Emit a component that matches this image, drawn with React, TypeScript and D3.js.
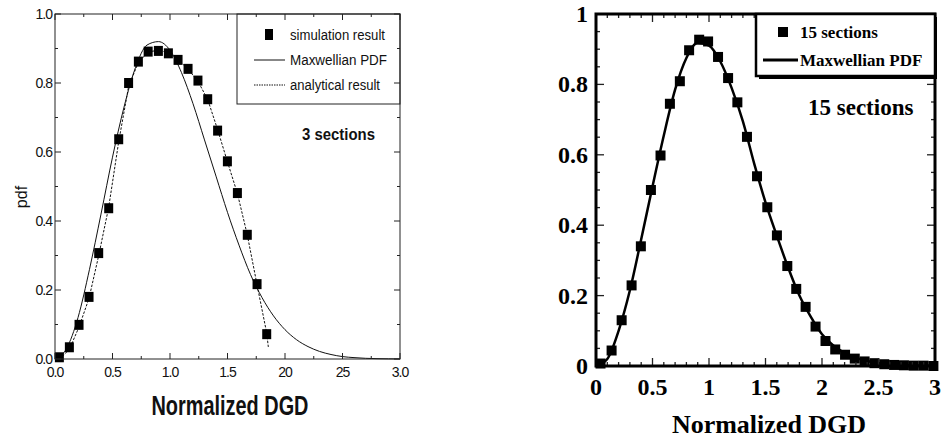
import React from "react";
import * as d3 from "d3";

// Shared x grid for the smooth Maxwellian curves
const CURVE_X = [0, 0.1, 0.2, 0.3, 0.4, 0.5, 0.6, 0.7, 0.8, 0.9, 1.0, 1.1, 1.2, 1.3, 1.4, 1.5, 1.6, 1.7, 1.8, 1.9, 2.0, 2.1, 2.2, 2.3, 2.4, 2.5, 2.6, 2.7, 2.8, 2.9, 3.0];

// Panel A: 3 sections
const MAXWELL_A = [0, 0.03, 0.12, 0.26, 0.42, 0.585, 0.73, 0.845, 0.91, 0.92, 0.895, 0.83, 0.74, 0.635, 0.53, 0.425, 0.33, 0.245, 0.178, 0.125, 0.085, 0.056, 0.036, 0.022, 0.013, 0.007, 0.004, 0.002, 0.001, 0.0005, 0.0002];
const SIM_A_X = [0.038, 0.125, 0.209, 0.296, 0.38, 0.467, 0.554, 0.64, 0.725, 0.81, 0.899, 0.986, 1.07, 1.157, 1.243, 1.328, 1.414, 1.499, 1.586, 1.672, 1.757, 1.841];
const SIM_A_Y = [0.005, 0.034, 0.099, 0.18, 0.307, 0.437, 0.637, 0.8, 0.862, 0.891, 0.893, 0.886, 0.867, 0.841, 0.807, 0.753, 0.662, 0.573, 0.481, 0.36, 0.217, 0.072];
const ANALYTIC_A_X = [0.04, 0.125, 0.209, 0.296, 0.38, 0.467, 0.554, 0.64, 0.725, 0.81, 0.899, 0.986, 1.07, 1.157, 1.243, 1.328, 1.414, 1.499, 1.586, 1.672, 1.757, 1.841, 1.855];
const ANALYTIC_A_Y = [0.0, 0.028, 0.093, 0.176, 0.3, 0.44, 0.63, 0.79, 0.86, 0.89, 0.895, 0.888, 0.868, 0.84, 0.805, 0.752, 0.665, 0.572, 0.48, 0.36, 0.215, 0.075, 0.035];

// Panel B: 15 sections
const MAXWELL_B = [0, 0.02, 0.1, 0.215, 0.36, 0.51, 0.655, 0.785, 0.875, 0.918, 0.91, 0.865, 0.79, 0.695, 0.575, 0.465, 0.37, 0.28, 0.2, 0.14, 0.09, 0.058, 0.037, 0.023, 0.014, 0.008, 0.005, 0.003, 0.002, 0.001, 0.001];
const SIM_B_X = [0.04, 0.138, 0.227, 0.315, 0.397, 0.486, 0.571, 0.654, 0.742, 0.824, 0.913, 0.992, 1.08, 1.169, 1.251, 1.336, 1.425, 1.516, 1.601, 1.693, 1.772, 1.855, 1.943, 2.031, 2.117, 2.204, 2.29, 2.377, 2.464, 2.551, 2.638, 2.725, 2.812, 2.899, 2.986];
const SIM_B_Y = [0.007, 0.044, 0.13, 0.229, 0.34, 0.5, 0.598, 0.745, 0.809, 0.897, 0.927, 0.922, 0.878, 0.818, 0.749, 0.651, 0.539, 0.451, 0.371, 0.284, 0.219, 0.168, 0.112, 0.071, 0.047, 0.032, 0.021, 0.013, 0.008, 0.005, 0.003, 0.002, 0.001, 0.001, 0.0];

// Tick labels
const A_X_LABELS = ["0.0", "0.5", "1.0", "1.5", "20", "25", "3.0"];
const A_Y_LABELS = ["0.0", "0.2", "0.4", "0.6", "0.8", "1.0"];
const B_X_LABELS = ["0", "0.5", "1", "1.5", "2", "2.5", "3"];
const B_Y_LABELS = ["0", "0.2", "0.4", "0.6", "0.8", "1"];

const SANS = "'Liberation Sans', Arial, sans-serif";
const SERIF = "'Liberation Serif', 'Times New Roman', serif";

const isMult = (v: number, step: number) => Math.abs(v / step - Math.round(v / step)) < 1e-6;

function frameTicks(
  x: d3.ScaleLinear<number, number>,
  y: d3.ScaleLinear<number, number>,
  xStep: number, xMajor: number, yStep: number, yMajor: number,
  majLen: number, minLen: number, color: string, width: number, key: string
) {
  const [x0, x1] = x.range();
  const [y0, y1] = y.range();
  const out: React.ReactElement[] = [];
  d3.range(0, 3 + 1e-6, xStep).forEach((v, i) => {
    const len = isMult(v, xMajor) ? majLen : minLen;
    const px = x(v);
    out.push(<line key={`${key}bx${i}`} x1={px} x2={px} y1={y0} y2={y0 - len} stroke={color} strokeWidth={width} />);
    out.push(<line key={`${key}tx${i}`} x1={px} x2={px} y1={y1} y2={y1 + len} stroke={color} strokeWidth={width} />);
  });
  d3.range(0, 1 + 1e-6, yStep).forEach((v, i) => {
    const len = isMult(v, yMajor) ? majLen : minLen;
    const py = y(v);
    out.push(<line key={`${key}ly${i}`} x1={x0} x2={x0 + len} y1={py} y2={py} stroke={color} strokeWidth={width} />);
    out.push(<line key={`${key}ry${i}`} x1={x1} x2={x1 - len} y1={py} y2={py} stroke={color} strokeWidth={width} />);
  });
  return out;
}

export default function App() {
  // Panel A scales
  const ax = d3.scaleLinear().domain([0, 3]).range([55, 400]);
  const ay = d3.scaleLinear().domain([0, 1]).range([359, 14]);
  // Panel B scales
  const bx = d3.scaleLinear().domain([0, 3]).range([596, 935]);
  const by = d3.scaleLinear().domain([0, 1]).range([366, 14]);

  const lineA = d3.line<number>().x((_, i) => ax(CURVE_X[i])).y((d) => ay(d)).curve(d3.curveMonotoneX);
  const analyticA = d3.line<number>().x((_, i) => ax(ANALYTIC_A_X[i])).y((d) => ay(d));
  const lineB = d3.line<number>().x((_, i) => bx(CURVE_X[i])).y((d) => by(d)).curve(d3.curveMonotoneX);

  const tickValsX = d3.range(0, 3 + 1e-6, 0.5);
  const tickValsY = d3.range(0, 1 + 1e-6, 0.2);

  return (
    <svg width={943} height={441} style={{ position: "absolute", left: 0, top: 0, background: "#fff" }}>
      <rect x={0} y={0} width={943} height={441} fill="#fff" />

      {/* ---------- Panel A ---------- */}
      <g>
        <path d={lineA(MAXWELL_A) || ""} fill="none" stroke="#111" strokeWidth={1} />
        <path d={analyticA(ANALYTIC_A_Y) || ""} fill="none" stroke="#111" strokeWidth={1} strokeDasharray="2.5,1.5" />
        {SIM_A_Y.map((v, i) => (
          <rect key={`sa${i}`} x={ax(SIM_A_X[i]) - 4.5} y={ay(v) - 5} width={9} height={10} fill="#000" />
        ))}
        <rect x={55} y={14} width={345} height={345} fill="none" stroke="#222" strokeWidth={1} />
        {frameTicks(ax, ay, 0.25, 0.5, 0.1, 0.2, 6, 3, "#222", 1, "a")}
        {tickValsX.map((v, i) => (
          <text key={`axl${i}`} x={ax(v)} y={377} textAnchor="middle" fontFamily={SANS} fontSize={14} letterSpacing={-1} fill="#111">
            {A_X_LABELS[i]}
          </text>
        ))}
        {tickValsY.map((v, i) => (
          <text key={`ayl${i}`} x={52} y={ay(v)} dy="0.36em" textAnchor="end" fontFamily={SANS} fontSize={14} letterSpacing={-1} fill="#111">
            {A_Y_LABELS[i]}
          </text>
        ))}
        <text transform="translate(27,197) rotate(-90)" textAnchor="middle" fontFamily={SANS} fontSize={16} fill="#111">pdf</text>
        <text x={230} y={415} textAnchor="middle" fontFamily={SANS} fontWeight="bold" fontSize={27} textLength={157} lengthAdjust="spacingAndGlyphs" fill="#111">
          Normalized DGD
        </text>
        <text x={302} y={140} fontFamily={SANS} fontWeight="bold" fontSize={17} textLength={73} lengthAdjust="spacingAndGlyphs" fill="#111">
          3 sections
        </text>
        {/* legend */}
        <rect x={237} y={14} width={163} height={90} fill="none" stroke="#222" strokeWidth={1} />
        <rect x={265} y={29} width={8} height={11} fill="#000" />
        <text x={290} y={40} fontFamily={SANS} fontSize={14} textLength={95} lengthAdjust="spacingAndGlyphs" fill="#111">simulation result</text>
        <line x1={254} x2={285} y1={60} y2={60} stroke="#111" strokeWidth={1} />
        <text x={290} y={65} fontFamily={SANS} fontSize={14} textLength={97} lengthAdjust="spacingAndGlyphs" fill="#111">Maxwellian PDF</text>
        <line x1={254} x2={285} y1={85} y2={85} stroke="#111" strokeWidth={1} strokeDasharray="1.5,1" />
        <text x={290} y={90} fontFamily={SANS} fontSize={14} textLength={90} lengthAdjust="spacingAndGlyphs" fill="#111">analytical result</text>
      </g>

      {/* ---------- Panel B ---------- */}
      <g>
        <path d={lineB(MAXWELL_B) || ""} fill="none" stroke="#000" strokeWidth={2.5} />
        {SIM_B_Y.map((v, i) => (
          <rect key={`sb${i}`} x={bx(SIM_B_X[i]) - 5} y={by(v) - 5} width={10} height={10} fill="#000" />
        ))}
        {frameTicks(bx, by, 0.1, 0.5, 0.05, 0.2, 8, 4, "#222", 1.3, "b")}
        <rect x={596} y={14} width={339} height={352} fill="none" stroke="#000" strokeWidth={3} />
        {tickValsX.map((v, i) => (
          <text key={`bxl${i}`} x={bx(v)} y={395} textAnchor="middle" fontFamily={SERIF} fontWeight="bold" fontSize={24} fill="#000">
            {B_X_LABELS[i]}
          </text>
        ))}
        {tickValsY.map((v, i) => (
          <text key={`byl${i}`} x={588} y={by(v)} dy="0.33em" textAnchor="end" fontFamily={SERIF} fontWeight="bold" fontSize={24} fill="#000">
            {B_Y_LABELS[i]}
          </text>
        ))}
        <text x={769} y={433} textAnchor="middle" fontFamily={SERIF} fontWeight="bold" fontSize={26} fill="#000">Normalized DGD</text>
        <text x={808} y={115} fontFamily={SERIF} fontWeight="bold" fontSize={23} fill="#000">15 sections</text>
        {/* legend */}
        <rect x={759} y={17} width={178} height={62} fill="#000" />
        <rect x={756} y={14} width={179} height={62} fill="#fff" stroke="#000" strokeWidth={2.5} />
        <rect x={778} y={27} width={10} height={10} fill="#000" />
        <text x={800} y={38} fontFamily={SERIF} fontWeight="bold" fontSize={17} fill="#000">15 sections</text>
        <line x1={763} x2={798} y1={60} y2={60} stroke="#000" strokeWidth={3} />
        <text x={800} y={66} fontFamily={SERIF} fontWeight="bold" fontSize={17} fill="#000">Maxwellian PDF</text>
      </g>
    </svg>
  );
}
